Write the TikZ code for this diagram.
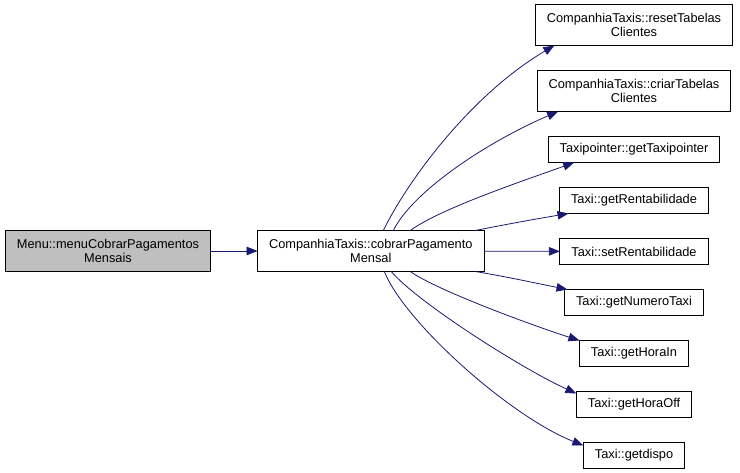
\documentclass[tikz,border=0pt]{standalone}
\usepackage{fontspec}
\setmainfont{Liberation Sans}
\usepackage{tikz}
\usetikzlibrary{arrows.meta,positioning}
\usepackage{xcolor}
\definecolor{MidBlue}{RGB}{25,25,112}
\definecolor{MenuGray}{RGB}{191,191,191}

\begin{document}
\begin{tikzpicture}[x=1pt,y=-1pt,node distance=25pt and 47pt,
    fn/.style={rectangle,draw=black,line width=0.9pt,fill=white,outer sep=0pt,
               font={\fontsize{12.8}{14}\selectfont},inner xsep=11.5pt,
               minimum height=26pt,align=center},
    fn2/.style={fn,minimum height=41pt},
    cur/.style={fn2,fill=MenuGray},
    arr/.style={-{Triangle[length=11pt,width=8.5pt]},MidBlue,line width=0.8pt}]

  \useasboundingbox (0,0) rectangle (740,473);

  \node[cur] (menu) at (108,251) {Menu::menuCobrarPagamentos\\Mensais};
  \node[fn2, right=of menu] (cobrar) {CompanhiaTaxis::cobrarPagamento\\Mensal};
  \node[fn2] (reset) at (634,25) {CompanhiaTaxis::resetTabelas\\Clientes};
  \node[fn2, below=of reset] (criar) {CompanhiaTaxis::criarTabelas\\Clientes};
  \node[fn, below=of criar] (tptr) {Taxipointer::getTaxipointer};
  \node[fn, below=of tptr] (getrent) {Taxi::getRentabilidade};
  \node[fn, below=of getrent] (setrent) {Taxi::setRentabilidade};
  \node[fn, below=of setrent] (numtaxi) {Taxi::getNumeroTaxi};
  \node[fn, below=of numtaxi] (horain) {Taxi::getHoraIn};
  \node[fn, below=of horain] (horaoff) {Taxi::getHoraOff};
  \node[fn, below=of horaoff] (dispo) {Taxi::getdispo};

  \draw[arr] (menu) -- (cobrar);
  \draw[arr] ([xshift=12.5pt]cobrar.north) .. controls +(25,-51) and +(-83,49) .. ([xshift=19pt]reset.south west);
  \draw[arr] ([xshift=22.5pt]cobrar.north) .. controls +(20,-40) and +(-70,30) .. ([xshift=21pt]criar.south west);
  \draw[arr] ([xshift=39.5pt]cobrar.north) .. controls +(30,-22) and +(-50,18) .. ([xshift=26pt]tptr.south west);
  \draw[arr] ([xshift=104.5pt]cobrar.north) .. controls +(30,-6) and +(-30,5) .. ([xshift=9pt]getrent.south west);
  \draw[arr] (cobrar) -- (setrent);
  \draw[arr] ([xshift=104.5pt]cobrar.south) .. controls +(30,5) and +(-30,-6) .. ([xshift=3pt]numtaxi.north west);
  \draw[arr] ([xshift=39.5pt]cobrar.south) .. controls +(25,18) and +(-50,-16) .. (horain.north west);
  \draw[arr] ([xshift=20.5pt]cobrar.south) .. controls +(25,30) and +(-55,-25) .. ([yshift=-2pt]horaoff.north west);
  \draw[arr] ([xshift=13.5pt]cobrar.south) .. controls +(20,50) and +(-75,-30) .. ([yshift=-3pt]dispo.north west);
\end{tikzpicture}
\end{document}
